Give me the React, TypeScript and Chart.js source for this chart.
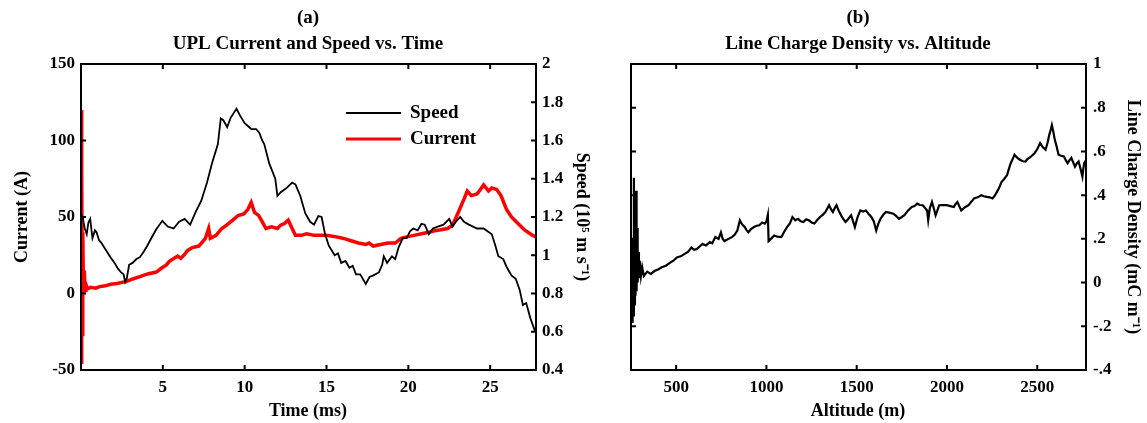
import React, { useEffect, useRef } from 'react';
import { Chart, registerables } from 'chart.js';
Chart.register(...registerables);

const FONT = '"Liberation Serif", "Times New Roman", serif';

// ---------- Panel (a) data ----------
const timeTicks = [5, 10, 15, 20, 25];
const currentTicks = [-50, 0, 50, 100, 150];
const speedTicks = [0.4, 0.6, 0.8, 1, 1.2, 1.4, 1.6, 1.8, 2];

// [time ms, speed 1e5 m/s]
const speedSeries: number[][] = [
  [0, 1.22], [0.12, 1.19], [0.23, 1.14], [0.35, 1.11], [0.45, 1.17], [0.56, 1.19], [0.7, 1.09], [0.85, 1.13],
  [0.95, 1.12], [1.1, 1.08], [1.24, 1.065], [1.5, 1.03], [1.8, 0.99], [2.05, 0.96], [2.26, 0.93], [2.45, 0.91],
  [2.6, 0.9], [2.7, 0.86], [2.8, 0.88], [2.94, 0.95], [3.15, 0.96], [3.39, 0.98], [3.6, 0.99], [3.84, 1.02],
  [4.05, 1.05], [4.3, 1.09], [4.63, 1.14], [4.97, 1.18], [5.3, 1.15], [5.65, 1.14], [6.0, 1.175], [6.33, 1.19],
  [6.67, 1.16], [7.0, 1.225], [7.35, 1.285], [7.7, 1.38], [8.0, 1.48], [8.36, 1.58], [8.54, 1.715], [8.7, 1.706],
  [8.93, 1.67], [9.15, 1.72], [9.5, 1.766], [9.72, 1.73], [10.0, 1.69], [10.4, 1.66], [10.7, 1.66], [10.9, 1.64],
  [11.07, 1.6], [11.2, 1.58], [11.5, 1.48], [11.87, 1.4], [12.0, 1.31], [12.2, 1.33], [12.54, 1.35], [12.9, 1.38],
  [13.1, 1.37], [13.4, 1.31], [13.7, 1.22], [14.0, 1.175], [14.24, 1.16], [14.5, 1.205], [14.7, 1.2], [14.9, 1.115],
  [15.14, 1.05], [15.5, 1.0], [15.7, 1.01], [15.9, 0.96], [16.16, 0.97], [16.4, 0.935], [16.6, 0.945], [16.8, 0.9],
  [17.06, 0.9], [17.4, 0.85], [17.63, 0.886], [17.86, 0.895], [18.2, 0.91], [18.4, 0.95], [18.5, 0.995], [18.7, 0.96],
  [19.0, 0.995], [19.2, 0.98], [19.4, 1.04], [19.66, 1.09], [19.9, 1.09], [20.1, 1.125], [20.3, 1.14], [20.57, 1.13],
  [20.8, 1.165], [21.0, 1.16], [21.25, 1.11], [21.5, 1.14], [21.8, 1.15], [22.15, 1.16], [22.5, 1.19], [22.7, 1.15],
  [22.9, 1.175], [23.17, 1.2], [23.4, 1.175], [23.7, 1.16], [24.2, 1.14], [24.6, 1.14], [25.1, 1.11], [25.3, 1.055],
  [25.5, 0.995], [25.8, 0.98], [26.0, 0.94], [26.3, 0.895], [26.56, 0.877], [26.8, 0.82], [27.0, 0.74], [27.2, 0.75],
  [27.46, 0.67], [27.75, 0.6],
];

// [time ms, current A]
const currentSeries: number[][] = [
  [0, -45], [0.02, 120], [0.04, -25], [0.06, 80], [0.08, 10], [0.1, -28], [0.12, 40], [0.15, 0], [0.2, 15],
  [0.25, 2], [0.3, 6], [0.4, 3], [0.6, 4], [0.9, 3.5], [1.13, 4.5], [1.5, 5], [1.8, 6], [2.2, 6.5], [2.5, 7.3],
  [2.8, 8], [3.16, 9.5], [3.6, 11], [4.07, 12.8], [4.6, 14], [4.97, 17], [5.2, 18.5], [5.4, 21], [5.9, 24.5],
  [6.1, 23], [6.33, 25.5], [6.5, 28], [6.8, 30], [7.2, 31], [7.6, 36], [7.8, 42.5], [7.9, 36], [8.25, 38],
  [8.6, 42.5], [8.9, 44.7], [9.27, 48], [9.6, 51], [9.95, 52], [10.2, 55], [10.4, 59.5], [10.6, 53], [10.85, 51],
  [11.07, 47], [11.3, 42.5], [11.64, 43.6], [12.0, 42.5], [12.2, 44.7], [12.43, 45.7], [12.66, 48], [12.9, 42.5],
  [13.1, 38], [13.45, 38], [13.8, 39], [14.24, 38], [14.7, 38], [15.1, 37.9], [15.6, 37], [16.05, 36], [16.5, 34.5],
  [16.95, 33], [17.4, 32], [17.6, 33], [17.86, 31], [18.3, 32], [18.76, 33], [19.2, 33], [19.55, 36], [19.9, 37],
  [20.34, 38], [20.8, 39], [21.25, 40], [21.6, 41], [21.9, 41.5], [22.4, 42.5], [22.7, 44.7], [23.05, 53],
  [23.4, 61.7], [23.6, 67], [23.85, 64], [24.2, 65], [24.4, 68], [24.6, 71], [24.9, 67], [25.1, 69], [25.4, 68],
  [25.66, 64], [26.0, 55], [26.3, 50], [26.7, 45.7], [27.1, 41.5], [27.6, 38], [27.8, 37],
];

// ---------- Panel (b) data ----------
const altitudeTicks = [500, 1000, 1500, 2000, 2500];
const densityTicks = [-0.4, -0.2, 0, 0.2, 0.4, 0.6, 0.8, 1];

// [altitude m, line charge density mC/m]
const densitySeries: number[][] = [
  [252, 0.0], [256, -0.18], [259, 0.2], [262, -0.15], [266, 0.48], [269, -0.1], [272, 0.3], [275, -0.06],
  [278, 0.42], [281, -0.04], [284, 0.25], [287, 0.0], [290, 0.14], [294, 0.02], [298, 0.1], [305, 0.03],
  [312, 0.07], [321, 0.03], [340, 0.05], [360, 0.04], [382, 0.054], [400, 0.06], [420, 0.07], [443, 0.077],
  [465, 0.09], [485, 0.1], [504, 0.115], [525, 0.12], [545, 0.13], [565, 0.14], [585, 0.16], [600, 0.15],
  [616, 0.154], [630, 0.165], [646, 0.177], [665, 0.17], [687, 0.185], [700, 0.18], [717, 0.208], [735, 0.2],
  [748, 0.23], [758, 0.2], [768, 0.19], [790, 0.2], [809, 0.208], [825, 0.22], [839, 0.238], [853, 0.285],
  [866, 0.265], [880, 0.254], [890, 0.24], [900, 0.23], [915, 0.245], [931, 0.254], [946, 0.26], [961, 0.262],
  [976, 0.275], [991, 0.27], [1000, 0.28], [1008, 0.31], [1012, 0.19], [1025, 0.2], [1043, 0.215], [1060, 0.21],
  [1083, 0.208], [1100, 0.235], [1114, 0.254], [1130, 0.27], [1144, 0.3], [1160, 0.285], [1175, 0.292],
  [1190, 0.28], [1205, 0.277], [1220, 0.29], [1235, 0.285], [1250, 0.275], [1266, 0.27], [1280, 0.285],
  [1297, 0.3], [1312, 0.31], [1327, 0.323], [1347, 0.354], [1358, 0.335], [1368, 0.323], [1378, 0.34],
  [1388, 0.354], [1400, 0.33], [1418, 0.3], [1438, 0.277], [1452, 0.29], [1469, 0.308], [1480, 0.28],
  [1490, 0.254], [1505, 0.3], [1520, 0.33], [1535, 0.325], [1551, 0.33], [1565, 0.315], [1581, 0.3],
  [1595, 0.28], [1608, 0.238], [1620, 0.27], [1632, 0.292], [1647, 0.31], [1662, 0.323], [1680, 0.32],
  [1703, 0.315], [1718, 0.305], [1734, 0.292], [1750, 0.3], [1764, 0.308], [1785, 0.33], [1805, 0.346],
  [1820, 0.35], [1835, 0.361], [1850, 0.355], [1866, 0.354], [1880, 0.34], [1890, 0.33], [1896, 0.285],
  [1905, 0.34], [1917, 0.369], [1927, 0.34], [1937, 0.308], [1947, 0.33], [1957, 0.354], [1975, 0.355],
  [1998, 0.354], [2018, 0.35], [2038, 0.346], [2048, 0.36], [2058, 0.369], [2068, 0.35], [2079, 0.33],
  [2100, 0.345], [2120, 0.354], [2135, 0.37], [2150, 0.385], [2170, 0.39], [2191, 0.4], [2205, 0.395],
  [2221, 0.392], [2237, 0.39], [2252, 0.385], [2262, 0.395], [2272, 0.408], [2287, 0.43], [2302, 0.46],
  [2318, 0.475], [2333, 0.492], [2343, 0.52], [2353, 0.546], [2364, 0.565], [2374, 0.585], [2390, 0.57],
  [2404, 0.562], [2420, 0.555], [2435, 0.554], [2445, 0.565], [2455, 0.57], [2470, 0.58], [2485, 0.592],
  [2500, 0.61], [2516, 0.638], [2530, 0.62], [2546, 0.608], [2557, 0.64], [2567, 0.677], [2575, 0.7],
  [2581, 0.72], [2589, 0.69], [2597, 0.654], [2608, 0.62], [2618, 0.585], [2632, 0.58], [2648, 0.577],
  [2658, 0.56], [2668, 0.546], [2679, 0.56], [2689, 0.57], [2699, 0.55], [2709, 0.53], [2719, 0.545],
  [2729, 0.554], [2740, 0.52], [2750, 0.485], [2755, 0.52], [2760, 0.546], [2770, 0.56],
];

const toXY = (s: number[][]) => s.map(([x, y]) => ({ x, y }));
const fixTicks = (vals: number[]) => (scale: any) => {
  scale.ticks = vals.map((v) => ({ value: v }));
};
const tickFont = { family: FONT, size: 17, weight: 'bold' as const };
const plain = (v: any) => String(Math.round(Number(v) * 10) / 10);

type TextItem = { text: string; x: number; y: number; rot?: number; size?: number };

function decorPlugin(cfg: {
  xId: string;
  xVals: number[];
  left: { id: string; vals: number[] };
  right: { id: string; vals: number[] };
  texts: TextItem[];
  legend?: boolean;
}) {
  return {
    id: 'decor',
    afterDraw(chart: any) {
      const ctx = chart.ctx;
      const { left, right, top, bottom } = chart.chartArea;
      ctx.save();
      ctx.strokeStyle = '#000';
      ctx.lineWidth = 2;
      ctx.strokeRect(left, top, right - left, bottom - top);
      const L = 5;
      const xs = chart.scales[cfg.xId];
      ctx.beginPath();
      cfg.xVals.forEach((v) => {
        const px = xs.getPixelForValue(v);
        ctx.moveTo(px, bottom);
        ctx.lineTo(px, bottom - L);
        ctx.moveTo(px, top);
        ctx.lineTo(px, top + L);
      });
      const ls = chart.scales[cfg.left.id];
      cfg.left.vals.forEach((v) => {
        const py = ls.getPixelForValue(v);
        ctx.moveTo(left, py);
        ctx.lineTo(left + L, py);
      });
      const rs = chart.scales[cfg.right.id];
      cfg.right.vals.forEach((v) => {
        const py = rs.getPixelForValue(v);
        ctx.moveTo(right, py);
        ctx.lineTo(right - L, py);
      });
      ctx.stroke();

      ctx.fillStyle = '#000';
      ctx.textAlign = 'center';
      ctx.textBaseline = 'middle';
      cfg.texts.forEach((t) => {
        ctx.save();
        ctx.font = `bold ${t.size || 18}px ${FONT}`;
        ctx.translate(t.x, t.y);
        if (t.rot) ctx.rotate(t.rot);
        ctx.fillText(t.text, 0, 0);
        ctx.restore();
      });

      if (cfg.legend) {
        const ds = chart.data.datasets;
        ctx.font = `bold 19px ${FONT}`;
        ctx.textAlign = 'left';
        const rows = [
          { d: ds[0], y: 113 },
          { d: ds[1], y: 139 },
        ];
        rows.forEach((r) => {
          ctx.strokeStyle = r.d.borderColor;
          ctx.lineWidth = r.d.label === 'Current' ? 3 : 2;
          ctx.beginPath();
          ctx.moveTo(346, r.y);
          ctx.lineTo(401, r.y);
          ctx.stroke();
          ctx.fillText(r.d.label, 410, r.y);
        });
      }
      ctx.restore();
    },
  };
}

function PanelA() {
  const ref = useRef<HTMLCanvasElement>(null);
  useEffect(() => {
    const chart = new Chart(ref.current as HTMLCanvasElement, {
      type: 'line',
      data: {
        datasets: [
          {
            label: 'Speed',
            data: toXY(speedSeries),
            borderColor: '#000000',
            borderWidth: 1.8,
            pointRadius: 0,
            tension: 0,
            yAxisID: 'yR',
          },
          {
            label: 'Current',
            data: toXY(currentSeries),
            borderColor: '#ff0000',
            borderWidth: 3.5,
            pointRadius: 0,
            tension: 0,
            yAxisID: 'yL',
          },
        ],
      },
      options: {
        animation: false,
        responsive: false,
        devicePixelRatio: 1,
        layout: { padding: { top: 64, left: 0, right: 0, bottom: 0 } },
        plugins: { legend: { display: false }, title: { display: false }, tooltip: { enabled: false } },
        scales: {
          x: {
            type: 'linear',
            position: 'bottom',
            min: 0,
            max: 27.8,
            afterBuildTicks: fixTicks(timeTicks),
            afterFit: (s: any) => { s.height = 53; },
            grid: { display: false, drawTicks: false },
            border: { display: false },
            ticks: { font: tickFont, color: '#000', padding: 7, maxRotation: 0, autoSkip: false, callback: plain },
          },
          yL: {
            type: 'linear',
            position: 'left',
            min: -50,
            max: 150,
            afterBuildTicks: fixTicks(currentTicks),
            afterFit: (s: any) => { s.width = 81; },
            grid: { display: false, drawTicks: false },
            border: { display: false },
            ticks: { font: tickFont, color: '#000', padding: 6, callback: plain },
          },
          yR: {
            type: 'linear',
            position: 'right',
            min: 0.4,
            max: 2,
            afterBuildTicks: fixTicks(speedTicks),
            afterFit: (s: any) => { s.width = 64; },
            grid: { display: false, drawTicks: false },
            border: { display: false },
            ticks: { font: tickFont, color: '#000', padding: 6, callback: plain },
          },
        },
      },
      plugins: [
        decorPlugin({
          xId: 'x',
          xVals: timeTicks,
          left: { id: 'yL', vals: currentTicks },
          right: { id: 'yR', vals: speedTicks },
          legend: true,
          texts: [
            { text: '(a)', x: 308, y: 18, size: 19 },
            { text: 'UPL Current and Speed vs. Time', x: 308, y: 44, size: 19 },
            { text: 'Time (ms)', x: 308, y: 411 },
            { text: 'Current (A)', x: 22, y: 217, rot: -Math.PI / 2 },
            { text: 'Speed (10⁵ m s⁻¹)', x: 582, y: 217, rot: Math.PI / 2 },
          ],
        }) as any,
      ],
    } as any);
    return () => chart.destroy();
  }, []);
  return <canvas ref={ref} width={600} height={423} style={{ position: 'absolute', left: 0, top: 0 }} />;
}

function PanelB() {
  const ref = useRef<HTMLCanvasElement>(null);
  useEffect(() => {
    const fmt = (v: number) => {
      if (Math.abs(v) < 1e-9) return '0';
      if (Math.abs(v - 1) < 1e-9) return '1';
      return v.toFixed(1).replace('0.', '.');
    };
    const chart = new Chart(ref.current as HTMLCanvasElement, {
      type: 'line',
      data: {
        datasets: [
          {
            label: 'Line Charge Density',
            data: toXY(densitySeries),
            borderColor: '#000000',
            borderWidth: 2.2,
            pointRadius: 0,
            tension: 0,
            yAxisID: 'y',
          },
        ],
      },
      options: {
        animation: false,
        responsive: false,
        devicePixelRatio: 1,
        layout: { padding: { top: 64, left: 31, right: 0, bottom: 0 } },
        plugins: { legend: { display: false }, title: { display: false }, tooltip: { enabled: false } },
        scales: {
          x: {
            type: 'linear',
            position: 'bottom',
            min: 250,
            max: 2770,
            afterBuildTicks: fixTicks(altitudeTicks),
            afterFit: (s: any) => { s.height = 53; },
            grid: { display: false, drawTicks: false },
            border: { display: false },
            ticks: { font: tickFont, color: '#000', padding: 7, maxRotation: 0, autoSkip: false, callback: (v: any) => String(v) },
          },
          y: {
            type: 'linear',
            position: 'right',
            min: -0.4,
            max: 1,
            afterBuildTicks: fixTicks(densityTicks),
            afterFit: (s: any) => { s.width = 61; },
            grid: { display: false, drawTicks: false },
            border: { display: false },
            ticks: { font: tickFont, color: '#000', padding: 7, callback: (v: any) => fmt(Number(v)) },
          },
        },
      },
      plugins: [
        decorPlugin({
          xId: 'x',
          xVals: altitudeTicks,
          left: { id: 'y', vals: densityTicks },
          right: { id: 'y', vals: densityTicks },
          texts: [
            { text: '(b)', x: 258, y: 18, size: 19 },
            { text: 'Line Charge Density vs. Altitude', x: 258, y: 44, size: 19 },
            { text: 'Altitude (m)', x: 258, y: 411 },
            { text: 'Line Charge Density (mC m⁻¹)', x: 533, y: 217, rot: Math.PI / 2 },
          ],
        }) as any,
      ],
    } as any);
    return () => chart.destroy();
  }, []);
  return <canvas ref={ref} width={547} height={423} style={{ position: 'absolute', left: 600, top: 0 }} />;
}

export default function App() {
  return (
    <div style={{ position: 'absolute', left: 0, top: 0, width: 1147, height: 423, background: '#fff' }}>
      <PanelA />
      <PanelB />
    </div>
  );
}
